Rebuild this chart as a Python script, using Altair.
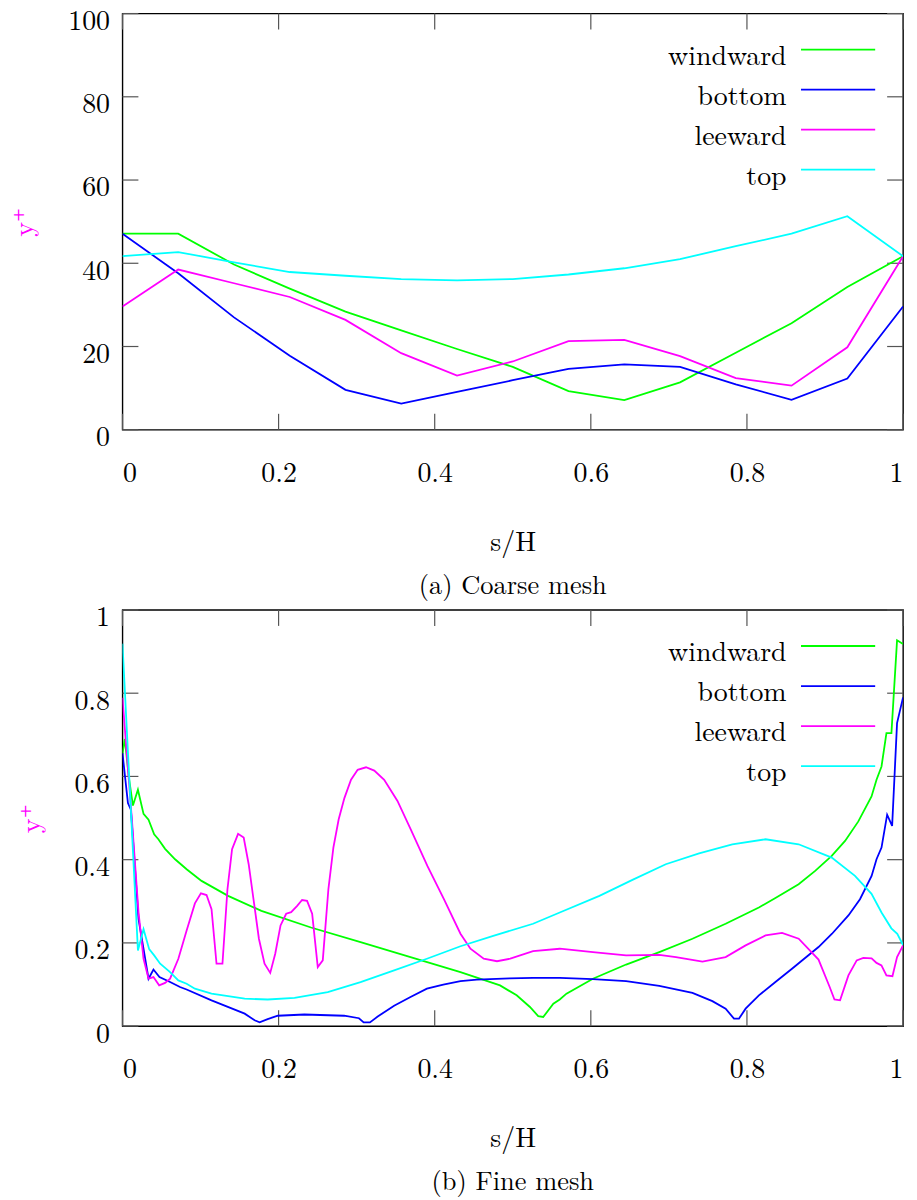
import altair as alt
import pandas as pd

FONT = "Latin Modern Roman, DejaVu Serif"
SERIES = ["windward", "bottom", "leeward", "top"]
COLORS = ["#00ff00", "#0000ff", "#ff00ff", "#00ffff"]

# ---- coarse mesh: wall-adjacent y+ along each face ----
coarse_s = [0.0, 0.0714, 0.1429, 0.2143, 0.2857, 0.3571, 0.4286, 0.5,
            0.5714, 0.6429, 0.7143, 0.7857, 0.8571, 0.9286, 1.0]
coarse_windward = [47.1, 47.1, 39.7, 33.9, 28.4, 23.9, 19.4, 15.1,
                   9.3, 7.1, 11.4, 18.5, 25.6, 34.3, 41.7]
coarse_bottom = [47.1, 37.6, 27.0, 17.8, 9.6, 6.3, 9.1, 11.9,
                 14.6, 15.7, 15.1, 10.9, 7.2, 12.3, 29.6]
coarse_leeward = [29.6, 38.5, 35.2, 31.9, 26.4, 18.4, 13.0, 16.4,
                  21.3, 21.6, 17.7, 12.4, 10.6, 19.8, 41.7]
coarse_top = [41.7, 42.7, 40.2, 37.9, 37.0, 36.2, 35.9, 36.2,
              37.3, 38.8, 41.0, 44.1, 47.1, 51.3, 41.7]

# ---- fine mesh ----
fine_windward_s = [0.0, 0.003, 0.008, 0.0134, 0.0198, 0.027, 0.0334, 0.0406, 0.046,
                   0.0546, 0.0674, 0.0822, 0.1013, 0.1353, 0.178, 0.2415, 0.305,
                   0.369, 0.433, 0.4837, 0.505, 0.522, 0.5326, 0.539, 0.552, 0.5602,
                   0.5688, 0.6027, 0.6452, 0.6877, 0.7302, 0.7727, 0.8153, 0.8365,
                   0.8662, 0.8874, 0.9086, 0.9257, 0.9427, 0.9596, 0.966, 0.9724,
                   0.9787, 0.9851, 0.9923, 1.0]
fine_windward_v = [0.655, 0.69, 0.6, 0.53, 0.568, 0.51, 0.496, 0.461, 0.449,
                   0.426, 0.401, 0.377, 0.349, 0.313, 0.277, 0.237, 0.202,
                   0.166, 0.13, 0.098, 0.074, 0.046, 0.024, 0.022, 0.054, 0.064,
                   0.078, 0.114, 0.148, 0.178, 0.21, 0.246, 0.285, 0.308,
                   0.341, 0.373, 0.409, 0.445, 0.492, 0.552, 0.592, 0.624,
                   0.704, 0.704, 0.927, 0.918]

fine_bottom_s = [0.0, 0.007, 0.0108, 0.0206, 0.0334, 0.0397, 0.0474, 0.061, 0.0737,
                 0.0822, 0.1141, 0.1566, 0.1693, 0.1757, 0.186, 0.199, 0.233, 0.284,
                 0.303, 0.309, 0.317, 0.327, 0.348, 0.369, 0.39, 0.411, 0.433, 0.454,
                 0.496, 0.526, 0.5602, 0.6027, 0.6452, 0.6877, 0.7302, 0.7557,
                 0.7727, 0.7834, 0.7898, 0.7983, 0.8153, 0.8365, 0.8577, 0.8917,
                 0.909, 0.93, 0.9448, 0.9597, 0.966, 0.9724, 0.9796, 0.986, 0.9923, 1.0]
fine_bottom_v = [0.656, 0.536, 0.52, 0.257, 0.114, 0.136, 0.118, 0.106, 0.094,
                 0.088, 0.062, 0.03, 0.014, 0.009, 0.017, 0.025, 0.028, 0.025,
                 0.019, 0.009, 0.009, 0.023, 0.049, 0.07, 0.09, 0.1, 0.108, 0.112,
                 0.115, 0.116, 0.116, 0.113, 0.108, 0.097, 0.08, 0.06,
                 0.042, 0.018, 0.018, 0.042, 0.074, 0.106, 0.138, 0.19,
                 0.222, 0.266, 0.305, 0.361, 0.401, 0.429, 0.508, 0.481, 0.728, 0.79]

fine_leeward_s = [0.0, 0.0121, 0.0206, 0.027, 0.0334, 0.0397, 0.047, 0.0546, 0.061,
                  0.0716, 0.0822, 0.0928, 0.1005, 0.1077, 0.1141, 0.1205, 0.1281,
                  0.1345, 0.1404, 0.1481, 0.1553, 0.1617, 0.1748, 0.182, 0.1893,
                  0.1957, 0.2025, 0.2097, 0.2161, 0.2238, 0.2301, 0.2365, 0.243,
                  0.2502, 0.2566, 0.2638, 0.2702, 0.277, 0.2843, 0.2928, 0.3013,
                  0.312, 0.3226, 0.3353, 0.3523, 0.3693, 0.3906, 0.4118, 0.433,
                  0.4458, 0.4628, 0.4798, 0.4968, 0.526, 0.5602, 0.6027, 0.6452,
                  0.6877, 0.709, 0.743, 0.7727, 0.7983, 0.8238, 0.845, 0.8663,
                  0.8917, 0.906, 0.9121, 0.9193, 0.93, 0.9406, 0.9491, 0.9597,
                  0.966, 0.9723, 0.9787, 0.9864, 0.9923, 1.0]
fine_leeward_v = [0.789, 0.496, 0.273, 0.162, 0.114, 0.118, 0.098, 0.104, 0.114,
                  0.162, 0.23, 0.295, 0.319, 0.315, 0.281, 0.15, 0.15,
                  0.329, 0.425, 0.462, 0.453, 0.389, 0.21, 0.15, 0.128,
                  0.174, 0.242, 0.27, 0.274, 0.289, 0.303, 0.301, 0.27,
                  0.142, 0.158, 0.329, 0.429, 0.497, 0.548, 0.592, 0.616,
                  0.622, 0.614, 0.592, 0.541, 0.473, 0.385, 0.305, 0.222,
                  0.186, 0.162, 0.156, 0.162, 0.18, 0.186, 0.178, 0.17,
                  0.171, 0.166, 0.155, 0.166, 0.194, 0.218, 0.224, 0.21,
                  0.16, 0.094, 0.064, 0.062, 0.122, 0.158, 0.164, 0.163,
                  0.152, 0.146, 0.122, 0.12, 0.166, 0.194]

fine_top_s = [0.0, 0.0099, 0.0198, 0.027, 0.0342, 0.0406, 0.0483, 0.061, 0.0716,
              0.0822, 0.0928, 0.1141, 0.1566, 0.186, 0.2204, 0.263, 0.305, 0.348,
              0.39, 0.433, 0.475, 0.526, 0.5602, 0.611, 0.654, 0.696, 0.7387,
              0.7812, 0.8237, 0.8662, 0.9086, 0.9384, 0.9596, 0.9724, 0.985,
              0.9926, 1.0]
fine_top_v = [0.919, 0.552, 0.182, 0.233, 0.185, 0.17, 0.15, 0.13, 0.11,
              0.102, 0.09, 0.078, 0.066, 0.064, 0.068, 0.082, 0.106, 0.134,
              0.162, 0.192, 0.217, 0.246, 0.273, 0.313, 0.352, 0.389, 0.415,
              0.437, 0.449, 0.437, 0.405, 0.361, 0.318, 0.273, 0.235,
              0.222, 0.195]

x_ticks = [0, 0.2, 0.4, 0.6, 0.8, 1]
coarse_y_ticks = [0, 20, 40, 60, 80, 100]
fine_y_ticks = [0, 0.2, 0.4, 0.6, 0.8, 1]

W, H = 784, 418
TICK = 16
LINE_W = 1.8
FS = 28


def long_frame(pairs):
    rows = []
    for name, (xs, ys) in zip(SERIES, pairs):
        for s, v in zip(xs, ys):
            rows.append({"s": s, "v": v, "series": name})
    return pd.DataFrame(rows)


def panel(df, y_max, y_ticks, caption):
    xscale = alt.Scale(domain=[0, 1], nice=False, zero=False)
    yscale = alt.Scale(domain=[0, y_max], nice=False, zero=False)

    lines = alt.Chart(df).mark_line(strokeWidth=LINE_W, clip=True).encode(
        x=alt.X("s:Q", scale=xscale, title="s/H",
                axis=alt.Axis(values=x_ticks, format="~r", ticks=False, domain=False,
                              grid=False, labelFont=FONT, labelFontSize=FS,
                              labelColor="black", labelPadding=30,
                              titleFont=FONT, titleFontSize=FS, titleFontWeight="normal",
                              titleColor="black", titlePadding=41)),
        y=alt.Y("v:Q", scale=yscale, title="y⁺",
                axis=alt.Axis(values=y_ticks, format="~r", ticks=False, domain=False,
                              grid=False, labelFont=FONT, labelFontSize=FS,
                              labelColor="black", labelPadding=13, labelOffset=8,
                              titleFont=FONT, titleFontSize=FS, titleFontWeight="normal",
                              titleColor="#ff00ff", titlePadding=29)),
        color=alt.Color("series:N", scale=alt.Scale(domain=SERIES, range=COLORS),
                        legend=None),
        order=alt.Order("s:Q"),
    )

    xt = pd.DataFrame({"s": x_ticks})
    yt = pd.DataFrame({"v": y_ticks})
    tick_style = dict(color="#555555", strokeWidth=1.2)
    ticks = [
        alt.Chart(xt).mark_rule(**tick_style).encode(
            x=alt.X("s:Q", scale=xscale), y=alt.value(H), y2=alt.value(H - TICK)),
        alt.Chart(xt).mark_rule(**tick_style).encode(
            x=alt.X("s:Q", scale=xscale), y=alt.value(0), y2=alt.value(TICK)),
        alt.Chart(yt).mark_rule(**tick_style).encode(
            y=alt.Y("v:Q", scale=yscale), x=alt.value(0), x2=alt.value(TICK)),
        alt.Chart(yt).mark_rule(**tick_style).encode(
            y=alt.Y("v:Q", scale=yscale), x=alt.value(W - TICK), x2=alt.value(W)),
    ]

    # key: label on the left, line sample on the right
    key = []
    for i, (name, col) in enumerate(zip(SERIES, COLORS)):
        ly = 36.2 + 40.2 * i
        key.append(alt.Chart(pd.DataFrame({"label": [name]})).mark_text(
            align="right", baseline="alphabetic", font=FONT, fontSize=FS, color="black"
        ).encode(x=alt.value(667), y=alt.value(ly + 15), text="label:N"))
        key.append(alt.Chart(pd.DataFrame({"label": [name]})).mark_rule(
            color=col, strokeWidth=LINE_W
        ).encode(x=alt.value(681.5), x2=alt.value(756), y=alt.value(ly)))

    return alt.layer(*ticks, lines, *key).properties(
        width=W, height=H,
        title=alt.TitleParams(caption, orient="bottom", anchor="middle", frame="group",
                              font=FONT, fontSize=26.5, fontWeight="normal",
                              color="black", offset=17),
    )


coarse = long_frame([(coarse_s, coarse_windward), (coarse_s, coarse_bottom),
                     (coarse_s, coarse_leeward), (coarse_s, coarse_top)])
fine = long_frame([(fine_windward_s, fine_windward_v), (fine_bottom_s, fine_bottom_v),
                   (fine_leeward_s, fine_leeward_v), (fine_top_s, fine_top_v)])

chart = alt.vconcat(
    panel(coarse, 100, coarse_y_ticks, "(a) Coarse mesh"),
    panel(fine, 1, fine_y_ticks, "(b) Fine mesh"),
    spacing=2,
).properties(
    padding={"left": 10, "top": 4, "right": 12, "bottom": 1},
    background="white",
).configure_view(stroke="black", strokeWidth=1.4)

chart.save("out.html", embed_options={"renderer": "svg", "actions": False})
